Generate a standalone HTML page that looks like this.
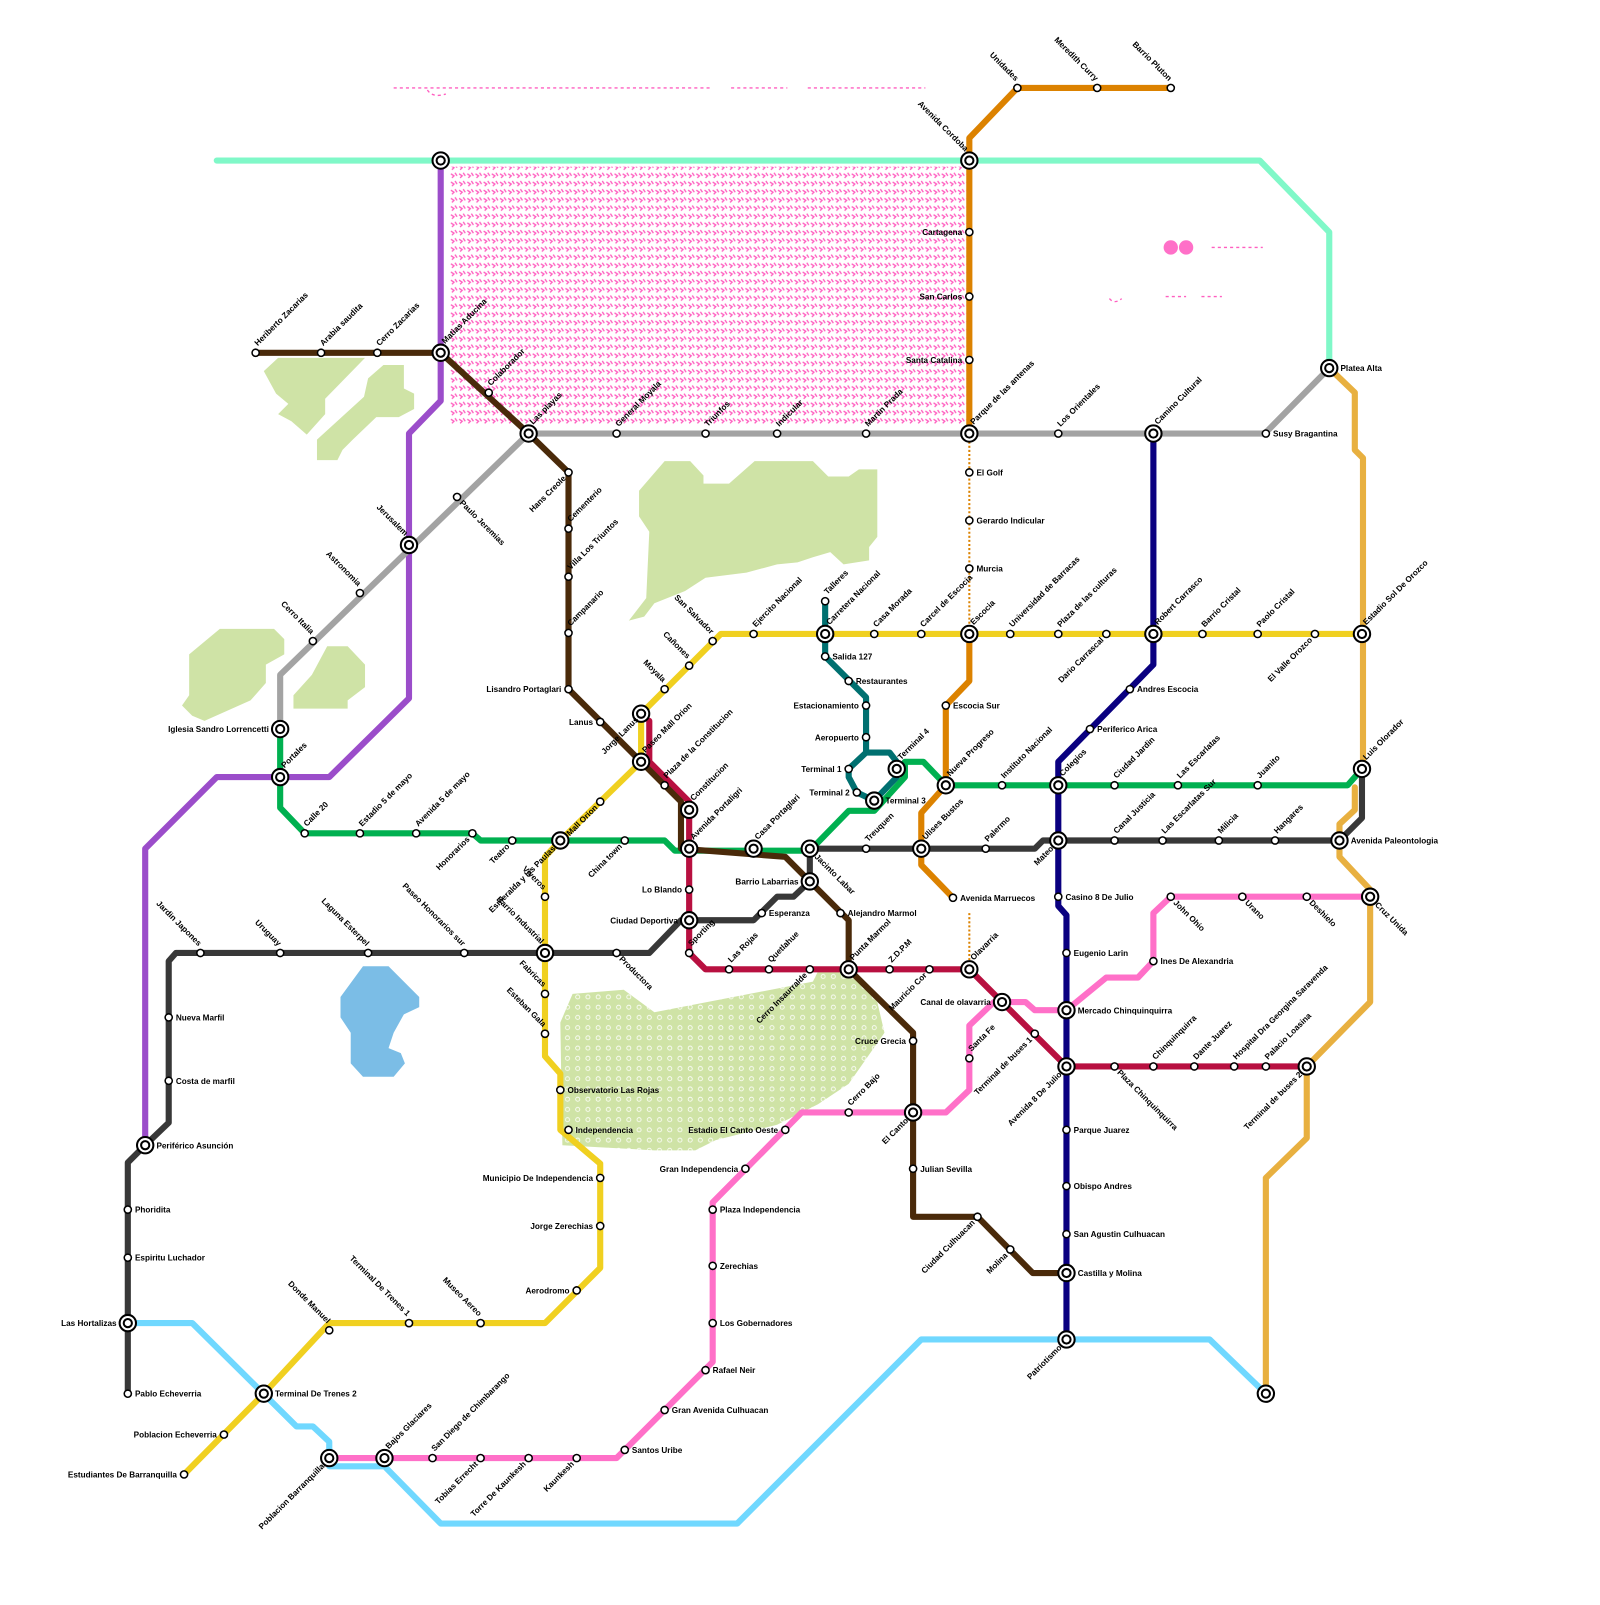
<!DOCTYPE html>
<html><head><meta charset="utf-8"><style>
html,body{margin:0;padding:0;background:#fff}
svg text{font-family:"Liberation Sans",sans-serif;font-size:8px;font-weight:bold;fill:#000}
.l{fill:none;stroke-width:6;stroke-linejoin:round;stroke-linecap:round}
</style></head><body>
<svg width="1600" height="1600" viewBox="0 0 1600 1600" xmlns="http://www.w3.org/2000/svg">
<defs>
<pattern id="pk" width="8" height="8" patternUnits="userSpaceOnUse">
<path d="M1 2 l3 2 l-2 2 M5 1 l2 3" stroke="#ff5fc0" stroke-width="1.3" fill="none"/>
</pattern>
<pattern id="gd" width="10" height="10" patternUnits="userSpaceOnUse">
<rect width="10" height="10" fill="#cfe3a6"/><circle cx="5" cy="5" r="2" fill="none" stroke="#fff" stroke-width="0.8"/>
</pattern>
</defs>
<g transform="scale(1.0225)">
<rect x="440" y="163" width="505" height="252" fill="url(#pk)"/>
<g fill="#cfe3a6">
<polygon points="258,363 272,350 357,350 318,390 318,405 300,425 285,412 272,405 282,395 270,385"/>
<polygon points="310,430 356,388 360,370 375,357 395,357 395,380 405,385 405,400 390,408 368,408 345,430 335,440 330,450 310,450"/>
<polygon points="185,640 215,615 268,615 278,625 278,640 260,650 260,668 245,685 200,705 188,700 178,690 185,680"/>
<polygon points="287,680 305,660 320,632 340,632 357,650 357,672 340,685 340,693 287,693"/>
<polygon points="625,480 650,451 675,451 688,465 688,473 713,473 738,451 795,451 810,466 830,466 840,459 858,459 858,525 850,535 850,548 825,552 812,540 795,545 780,550 760,552 730,560 690,565 670,578 640,590 630,603 615,607 632,585 635,520 625,505"/>
<polygon points="640,990 795,960 800,950 830,950 858,980 865,1010 830,1060 800,1080 760,1100 700,1115 680,1125 640,1125 550,1120 548,1000 560,972 610,968" fill="url(#gd)"/>
</g>
<polygon points="355,945 380,945 410,975 410,985 395,992 385,1010 380,1025 392,1030 396,1040 385,1053 355,1053 343,1040 343,1010 333,995 333,975" fill="#7bbde6"/>
<g stroke="#ff5fc0" stroke-width="1.3" stroke-dasharray="3,3" fill="none">
<line x1="385" y1="86" x2="695" y2="86"/><line x1="715" y1="86" x2="770" y2="86"/><line x1="790" y1="86" x2="905" y2="86"/>
<line x1="1185" y1="242" x2="1235" y2="242"/><line x1="1140" y1="290" x2="1160" y2="290"/><line x1="1175" y1="290" x2="1195" y2="290"/>
<path d="M418 88 q5 8 18 4 M1085 292 q5 6 12 0"/>
</g>
<circle cx="1145" cy="242" r="7" fill="#ff70c8"/><circle cx="1160" cy="242" r="7" fill="#ff70c8"/>
<polyline class="l" stroke="#80f8c8" points="212,157 1232,157 1300,227 1300,360"/>
<polyline class="l" stroke="#9b4dca" points="431,157 431,392 400,424 400,683 322,760 212,760 142,830 142,1120"/>
<polyline class="l" stroke="#a3a3a3" points="274,713 274,660 517,424 1237,424 1300,360"/>
<polyline class="l" stroke="#e8b040" points="1300,360 1325,384 1325,440 1333,448 1333,752"/>
<polyline class="l" stroke="#e8b040" points="1325,770 1325,792 1310,806 1310,838 1340,870 1340,980 1278,1043 1278,1113 1238,1152 1238,1363"/>
<polyline class="l" stroke="#dc8200" points="1145,86 995,86 948,135 948,424"/>
<line x1="948" y1="424" x2="948" y2="620" stroke="#dc8200" stroke-width="2" stroke-dasharray="2,2"/>
<line x1="948" y1="893" x2="948" y2="948" stroke="#dc8200" stroke-width="2" stroke-dasharray="2,2"/>
<polyline class="l" stroke="#dc8200" points="948,620 948,666 925,690 925,768 901,795 901,846 932,878"/>
<polyline class="l" stroke="#70d8ff" points="125,1294 188,1294 290,1395 306,1395 322,1410 322,1434 376,1434 431,1490 721,1490 901,1310 1183,1310 1238,1363"/>
<polyline class="l" stroke="#f0d020" points="1332,620 705,620 627,698 627,745 548,822 533,838 533,1033 548,1050 548,1105 587,1138 587,1240 533,1294 322,1294 258,1363 180,1442"/>
<polyline class="l" stroke="#00b050" points="274,713 274,790 298,815 462,815 470,822 650,822 660,832 792,832 830,793 855,793 885,760 885,745 903,745 925,768 1318,768 1332,752"/>
<polyline class="l" stroke="#383838" points="125,1363 125,1137 142,1120 165,1098 165,940 172,932 635,932 666,900 737,900 760,877 776,877 792,862 792,830 1012,830 1020,822 1310,822 1332,800 1332,752"/>
<polyline class="l" stroke="#b81040" points="635,705 635,745 674,784 674,932 690,948 948,948 1043,1043 1278,1043"/>
<polyline class="l" stroke="#ff70c8" points="322,1426 603,1426 697,1332 697,1176 784,1088 925,1088 948,1066 948,1003 972,980 1003,980 1012,988 1043,988 1082,956 1113,956 1128,940 1128,893 1145,877 1340,877"/>
<polyline class="l" stroke="#007070" points="807,588 807,642 847,682 847,736 870,736 877,745 877,760 855,783 838,775 830,760 830,752 847,736"/>
<polyline class="l" stroke="#0a0080" points="1128,424 1128,650 1035,745 1035,886 1043,895 1043,1310"/>
<polyline class="l" stroke="#4a2a0a" points="250,345 431,345 517,424 556,462 556,674 627,745 666,784 666,830 768,838 792,862 830,900 830,948 893,1010 893,1190 956,1190 1010,1245 1043,1245"/>
<g fill="#fff" stroke="#000" stroke-width="1.5">
<circle cx="250" cy="345" r="3.5"/><circle cx="314" cy="345" r="3.5"/><circle cx="369" cy="345" r="3.5"/><circle cx="478" cy="384" r="3.5"/><circle cx="556" cy="462" r="3.5"/><circle cx="556" cy="517" r="3.5"/><circle cx="556" cy="564" r="3.5"/><circle cx="556" cy="619" r="3.5"/><circle cx="556" cy="674" r="3.5"/><circle cx="587" cy="706" r="3.5"/><circle cx="587" cy="784" r="3.5"/><circle cx="822" cy="893" r="3.5"/><circle cx="893" cy="1018" r="3.5"/><circle cx="893" cy="1143" r="3.5"/><circle cx="956" cy="1190" r="3.5"/><circle cx="988" cy="1222" r="3.5"/>
<circle cx="447" cy="486" r="3.5"/><circle cx="352" cy="580" r="3.5"/><circle cx="306" cy="627" r="3.5"/><circle cx="603" cy="424" r="3.5"/><circle cx="690" cy="424" r="3.5"/><circle cx="760" cy="424" r="3.5"/><circle cx="847" cy="424" r="3.5"/><circle cx="1035" cy="424" r="3.5"/><circle cx="1238" cy="424" r="3.5"/>
<circle cx="995" cy="86" r="3.5"/><circle cx="1073" cy="86" r="3.5"/><circle cx="1145" cy="86" r="3.5"/><circle cx="948" cy="227" r="3.5"/><circle cx="948" cy="290" r="3.5"/><circle cx="948" cy="352" r="3.5"/><circle cx="948" cy="462" r="3.5"/><circle cx="948" cy="509" r="3.5"/><circle cx="948" cy="556" r="3.5"/><circle cx="925" cy="690" r="3.5"/><circle cx="932" cy="878" r="3.5"/>
<circle cx="697" cy="627" r="3.5"/><circle cx="674" cy="651" r="3.5"/><circle cx="650" cy="674" r="3.5"/><circle cx="737" cy="620" r="3.5"/><circle cx="855" cy="620" r="3.5"/><circle cx="901" cy="620" r="3.5"/><circle cx="988" cy="620" r="3.5"/><circle cx="1035" cy="620" r="3.5"/><circle cx="1082" cy="620" r="3.5"/><circle cx="1176" cy="620" r="3.5"/><circle cx="1230" cy="620" r="3.5"/><circle cx="1286" cy="620" r="3.5"/><circle cx="533" cy="877" r="3.5"/><circle cx="533" cy="972" r="3.5"/><circle cx="533" cy="1011" r="3.5"/><circle cx="548" cy="1066" r="3.5"/><circle cx="556" cy="1105" r="3.5"/><circle cx="587" cy="1152" r="3.5"/><circle cx="587" cy="1199" r="3.5"/><circle cx="564" cy="1262" r="3.5"/><circle cx="470" cy="1294" r="3.5"/><circle cx="400" cy="1294" r="3.5"/><circle cx="322" cy="1301" r="3.5"/><circle cx="219" cy="1403" r="3.5"/><circle cx="180" cy="1442" r="3.5"/>
<circle cx="298" cy="815" r="3.5"/><circle cx="352" cy="815" r="3.5"/><circle cx="407" cy="815" r="3.5"/><circle cx="462" cy="815" r="3.5"/><circle cx="501" cy="822" r="3.5"/><circle cx="611" cy="822" r="3.5"/><circle cx="980" cy="768" r="3.5"/><circle cx="1090" cy="768" r="3.5"/><circle cx="1152" cy="768" r="3.5"/><circle cx="1230" cy="768" r="3.5"/>
<circle cx="196" cy="932" r="3.5"/><circle cx="274" cy="932" r="3.5"/><circle cx="360" cy="932" r="3.5"/><circle cx="454" cy="932" r="3.5"/><circle cx="603" cy="932" r="3.5"/><circle cx="165" cy="995" r="3.5"/><circle cx="165" cy="1057" r="3.5"/><circle cx="125" cy="1183" r="3.5"/><circle cx="125" cy="1230" r="3.5"/><circle cx="125" cy="1363" r="3.5"/><circle cx="745" cy="893" r="3.5"/><circle cx="847" cy="830" r="3.5"/><circle cx="964" cy="830" r="3.5"/><circle cx="1090" cy="822" r="3.5"/><circle cx="1137" cy="822" r="3.5"/><circle cx="1192" cy="822" r="3.5"/><circle cx="1247" cy="822" r="3.5"/><circle cx="1035" cy="877" r="3.5"/>
<circle cx="674" cy="870" r="3.5"/><circle cx="650" cy="768" r="3.5"/><circle cx="674" cy="932" r="3.5"/><circle cx="713" cy="948" r="3.5"/><circle cx="752" cy="948" r="3.5"/><circle cx="792" cy="948" r="3.5"/><circle cx="870" cy="948" r="3.5"/><circle cx="909" cy="948" r="3.5"/><circle cx="1012" cy="1011" r="3.5"/><circle cx="1128" cy="1043" r="3.5"/><circle cx="1090" cy="1043" r="3.5"/><circle cx="1168" cy="1043" r="3.5"/><circle cx="1207" cy="1043" r="3.5"/><circle cx="1238" cy="1043" r="3.5"/>
<circle cx="807" cy="588" r="3.5"/><circle cx="807" cy="642" r="3.5"/><circle cx="830" cy="666" r="3.5"/><circle cx="847" cy="690" r="3.5"/><circle cx="847" cy="721" r="3.5"/><circle cx="830" cy="752" r="3.5"/><circle cx="838" cy="775" r="3.5"/>
<circle cx="1105" cy="674" r="3.5"/><circle cx="1066" cy="713" r="3.5"/><circle cx="1043" cy="932" r="3.5"/><circle cx="1043" cy="1105" r="3.5"/><circle cx="1043" cy="1160" r="3.5"/><circle cx="1043" cy="1207" r="3.5"/>
<circle cx="611" cy="1418" r="3.5"/><circle cx="650" cy="1379" r="3.5"/><circle cx="690" cy="1340" r="3.5"/><circle cx="697" cy="1294" r="3.5"/><circle cx="697" cy="1238" r="3.5"/><circle cx="697" cy="1183" r="3.5"/><circle cx="729" cy="1143" r="3.5"/><circle cx="768" cy="1105" r="3.5"/><circle cx="830" cy="1088" r="3.5"/><circle cx="948" cy="1035" r="3.5"/><circle cx="1128" cy="940" r="3.5"/><circle cx="1145" cy="877" r="3.5"/><circle cx="1215" cy="877" r="3.5"/><circle cx="1278" cy="877" r="3.5"/><circle cx="423" cy="1426" r="3.5"/><circle cx="470" cy="1426" r="3.5"/><circle cx="517" cy="1426" r="3.5"/><circle cx="564" cy="1426" r="3.5"/>
</g>
<g fill="#fff" stroke="#000" stroke-width="2">
<circle cx="431" cy="157" r="8"/><circle cx="431" cy="157" r="4"/>
<circle cx="948" cy="157" r="8"/><circle cx="948" cy="157" r="4"/>
<circle cx="431" cy="345" r="8"/><circle cx="431" cy="345" r="4"/>
<circle cx="517" cy="424" r="8"/><circle cx="517" cy="424" r="4"/>
<circle cx="948" cy="424" r="8"/><circle cx="948" cy="424" r="4"/>
<circle cx="1128" cy="424" r="8"/><circle cx="1128" cy="424" r="4"/>
<circle cx="1300" cy="360" r="8"/><circle cx="1300" cy="360" r="4"/>
<circle cx="400" cy="533" r="8"/><circle cx="400" cy="533" r="4"/>
<circle cx="274" cy="713" r="8"/><circle cx="274" cy="713" r="4"/>
<circle cx="274" cy="760" r="8"/><circle cx="274" cy="760" r="4"/>
<circle cx="627" cy="698" r="8"/><circle cx="627" cy="698" r="4"/>
<circle cx="627" cy="745" r="8"/><circle cx="627" cy="745" r="4"/>
<circle cx="674" cy="792" r="8"/><circle cx="674" cy="792" r="4"/>
<circle cx="674" cy="830" r="8"/><circle cx="674" cy="830" r="4"/>
<circle cx="548" cy="822" r="8"/><circle cx="548" cy="822" r="4"/>
<circle cx="737" cy="830" r="8"/><circle cx="737" cy="830" r="4"/>
<circle cx="792" cy="830" r="8"/><circle cx="792" cy="830" r="4"/>
<circle cx="792" cy="862" r="8"/><circle cx="792" cy="862" r="4"/>
<circle cx="674" cy="900" r="8"/><circle cx="674" cy="900" r="4"/>
<circle cx="533" cy="932" r="8"/><circle cx="533" cy="932" r="4"/>
<circle cx="807" cy="620" r="8"/><circle cx="807" cy="620" r="4"/>
<circle cx="877" cy="752" r="8"/><circle cx="877" cy="752" r="4"/>
<circle cx="855" cy="783" r="8"/><circle cx="855" cy="783" r="4"/>
<circle cx="948" cy="620" r="8"/><circle cx="948" cy="620" r="4"/>
<circle cx="925" cy="768" r="8"/><circle cx="925" cy="768" r="4"/>
<circle cx="901" cy="830" r="8"/><circle cx="901" cy="830" r="4"/>
<circle cx="830" cy="948" r="8"/><circle cx="830" cy="948" r="4"/>
<circle cx="948" cy="948" r="8"/><circle cx="948" cy="948" r="4"/>
<circle cx="980" cy="980" r="8"/><circle cx="980" cy="980" r="4"/>
<circle cx="1043" cy="988" r="8"/><circle cx="1043" cy="988" r="4"/>
<circle cx="1043" cy="1043" r="8"/><circle cx="1043" cy="1043" r="4"/>
<circle cx="1035" cy="768" r="8"/><circle cx="1035" cy="768" r="4"/>
<circle cx="1035" cy="822" r="8"/><circle cx="1035" cy="822" r="4"/>
<circle cx="1128" cy="620" r="8"/><circle cx="1128" cy="620" r="4"/>
<circle cx="1332" cy="620" r="8"/><circle cx="1332" cy="620" r="4"/>
<circle cx="1332" cy="752" r="8"/><circle cx="1332" cy="752" r="4"/>
<circle cx="1310" cy="822" r="8"/><circle cx="1310" cy="822" r="4"/>
<circle cx="1340" cy="877" r="8"/><circle cx="1340" cy="877" r="4"/>
<circle cx="1278" cy="1043" r="8"/><circle cx="1278" cy="1043" r="4"/>
<circle cx="893" cy="1088" r="8"/><circle cx="893" cy="1088" r="4"/>
<circle cx="1043" cy="1245" r="8"/><circle cx="1043" cy="1245" r="4"/>
<circle cx="1043" cy="1310" r="8"/><circle cx="1043" cy="1310" r="4"/>
<circle cx="1238" cy="1363" r="8"/><circle cx="1238" cy="1363" r="4"/>
<circle cx="142" cy="1120" r="8"/><circle cx="142" cy="1120" r="4"/>
<circle cx="125" cy="1294" r="8"/><circle cx="125" cy="1294" r="4"/>
<circle cx="258" cy="1363" r="8"/><circle cx="258" cy="1363" r="4"/>
<circle cx="322" cy="1426" r="8"/><circle cx="322" cy="1426" r="4"/>
<circle cx="376" cy="1426" r="8"/><circle cx="376" cy="1426" r="4"/>
</g>
<g>
<text x="256" y="342" transform="rotate(-45 250 345)">Heriberto Zacarias</text>
<text x="320" y="342" transform="rotate(-45 314 345)">Arabia saudita</text>
<text x="375" y="342" transform="rotate(-45 369 345)">Cerro Zacarias</text>
<text x="440" y="342" transform="rotate(-45 431 345)">Matias Aducina</text>
<text x="484" y="381" transform="rotate(-45 478 384)">Colaborador</text>
<text x="526" y="421" transform="rotate(-45 517 424)">Las playas</text>
<text x="562" y="514" transform="rotate(-45 556 517)">Cementerio</text>
<text x="562" y="561" transform="rotate(-45 556 564)">Villa Los Triuntos</text>
<text x="562" y="616" transform="rotate(-45 556 619)">Campanario</text>
<text x="839" y="945" transform="rotate(-45 830 948)">Punta Marmol</text>
<text x="609" y="421" transform="rotate(-45 603 424)">General Moyala</text>
<text x="696" y="421" transform="rotate(-45 690 424)">Triunfos</text>
<text x="766" y="421" transform="rotate(-45 760 424)">Indicular</text>
<text x="853" y="421" transform="rotate(-45 847 424)">Martin Prada</text>
<text x="957" y="421" transform="rotate(-45 948 424)">Parque de las antenas</text>
<text x="1041" y="421" transform="rotate(-45 1035 424)">Los Orientales</text>
<text x="1137" y="421" transform="rotate(-45 1128 424)">Camino Cultural</text>
<text x="743" y="617" transform="rotate(-45 737 620)">Ejercito Nacional</text>
<text x="816" y="617" transform="rotate(-45 807 620)">Carretera Nacional</text>
<text x="861" y="617" transform="rotate(-45 855 620)">Casa Morada</text>
<text x="907" y="617" transform="rotate(-45 901 620)">Carcel de Escocia</text>
<text x="957" y="617" transform="rotate(-45 948 620)">Escocia</text>
<text x="994" y="617" transform="rotate(-45 988 620)">Universidad de Barracas</text>
<text x="1041" y="617" transform="rotate(-45 1035 620)">Plaza de las culturas</text>
<text x="1137" y="617" transform="rotate(-45 1128 620)">Robert Carrasco</text>
<text x="1182" y="617" transform="rotate(-45 1176 620)">Barrio Cristal</text>
<text x="1236" y="617" transform="rotate(-45 1230 620)">Paolo Cristal</text>
<text x="1341" y="617" transform="rotate(-45 1332 620)">Estadio Sol De Orozco</text>
<text x="813" y="585" transform="rotate(-45 807 588)">Talleres</text>
<text x="283" y="757" transform="rotate(-45 274 760)">Portales</text>
<text x="304" y="812" transform="rotate(-45 298 815)">Calle 20</text>
<text x="358" y="812" transform="rotate(-45 352 815)">Estadio 5 de mayo</text>
<text x="413" y="812" transform="rotate(-45 407 815)">Avenida 5 de mayo</text>
<text x="636" y="742" transform="rotate(-45 627 745)">Paseo Mall Orion</text>
<text x="656" y="765" transform="rotate(-45 650 768)">Plaza de la Constitucion</text>
<text x="683" y="789" transform="rotate(-45 674 792)">Constitucion</text>
<text x="683" y="827" transform="rotate(-45 674 830)">Avenida Portaligri</text>
<text x="746" y="827" transform="rotate(-45 737 830)">Casa Portaglari</text>
<text x="853" y="827" transform="rotate(-45 847 830)">Treuquen</text>
<text x="910" y="827" transform="rotate(-45 901 830)">Ulises Bustos</text>
<text x="970" y="827" transform="rotate(-45 964 830)">Palermo</text>
<text x="934" y="765" transform="rotate(-45 925 768)">Nueva Progreso</text>
<text x="886" y="749" transform="rotate(-45 877 752)">Terminal 4</text>
<text x="986" y="765" transform="rotate(-45 980 768)">Instituto Nacional</text>
<text x="1044" y="765" transform="rotate(-45 1035 768)">Colegios</text>
<text x="1096" y="765" transform="rotate(-45 1090 768)">Ciudad Jardin</text>
<text x="1158" y="765" transform="rotate(-45 1152 768)">Las Escarlatas</text>
<text x="1236" y="765" transform="rotate(-45 1230 768)">Juanito</text>
<text x="1341" y="749" transform="rotate(-45 1332 752)">Luis Olorador</text>
<text x="1096" y="819" transform="rotate(-45 1090 822)">Canal Justicia</text>
<text x="1143" y="819" transform="rotate(-45 1137 822)">Las Escarlatas Sur</text>
<text x="1198" y="819" transform="rotate(-45 1192 822)">Milicia</text>
<text x="1253" y="819" transform="rotate(-45 1247 822)">Hangares</text>
<text x="680" y="929" transform="rotate(-45 674 932)">Sporting</text>
<text x="719" y="945" transform="rotate(-45 713 948)">Las Rojas</text>
<text x="758" y="945" transform="rotate(-45 752 948)">Quetlahue</text>
<text x="876" y="945" transform="rotate(-45 870 948)">Z.D.P.M</text>
<text x="957" y="945" transform="rotate(-45 948 948)">Olavarria</text>
<text x="1134" y="1040" transform="rotate(-45 1128 1043)">Chinquinquirra</text>
<text x="1174" y="1040" transform="rotate(-45 1168 1043)">Dante Juarez</text>
<text x="1213" y="1040" transform="rotate(-45 1207 1043)">Hospital Dra Georgina Saravenda</text>
<text x="1244" y="1040" transform="rotate(-45 1238 1043)">Palacio Loasina</text>
<text x="836" y="1085" transform="rotate(-45 830 1088)">Cerro Bajo</text>
<text x="954" y="1032" transform="rotate(-45 948 1035)">Santa Fe</text>
<text x="385" y="1423" transform="rotate(-45 376 1426)">Bajos Glaciares</text>
<text x="429" y="1423" transform="rotate(-45 423 1426)">San Diego de Chimbarango</text>
</g>
<g text-anchor="end">
<text x="550" y="465" transform="rotate(-45 556 462)">Hans Creole</text>
<text x="581" y="787" transform="rotate(-45 587 784)">Mall Orion</text>
<text x="621" y="701" transform="rotate(-45 627 698)">Jorge Lanus</text>
<text x="539" y="825" transform="rotate(-45 548 822)">Esmeralda y las Paulas</text>
<text x="456" y="818" transform="rotate(-45 462 815)">Honorarios</text>
<text x="495" y="825" transform="rotate(-45 501 822)">Teatro</text>
<text x="605" y="825" transform="rotate(-45 611 822)">China town</text>
<text x="1076" y="623" transform="rotate(-45 1082 620)">Dario Carrascal</text>
<text x="1280" y="623" transform="rotate(-45 1286 620)">El Valle Orozco</text>
<text x="786" y="951" transform="rotate(-45 792 948)">Cerro Insaurralde</text>
<text x="903" y="951" transform="rotate(-45 909 948)">Mauricio Cor</text>
<text x="1006" y="1014" transform="rotate(-45 1012 1011)">Terminal de buses 1</text>
<text x="1034" y="1046" transform="rotate(-45 1043 1043)">Avenida 8 De Julio</text>
<text x="1026" y="825" transform="rotate(-45 1035 822)">Mateo</text>
<text x="1269" y="1046" transform="rotate(-45 1278 1043)">Terminal de buses 2</text>
<text x="884" y="1091" transform="rotate(-45 893 1088)">El Canto</text>
<text x="950" y="1193" transform="rotate(-45 956 1190)">Ciudad Culhuacan</text>
<text x="982" y="1225" transform="rotate(-45 988 1222)">Molina</text>
<text x="1034" y="1313" transform="rotate(-45 1043 1310)">Patriotismo</text>
<text x="313" y="1429" transform="rotate(-45 322 1426)">Poblacion Barranquilla</text>
<text x="464" y="1429" transform="rotate(-45 470 1426)">Tobias Errecht</text>
<text x="511" y="1429" transform="rotate(-45 517 1426)">Torre De Kaunkesh</text>
<text x="558" y="1429" transform="rotate(-45 564 1426)">Kaunkesh</text>
</g>
<g text-anchor="end">
<text x="391" y="530" transform="rotate(45 400 533)">Jerusalem</text>
<text x="346" y="577" transform="rotate(45 352 580)">Astronomia</text>
<text x="300" y="624" transform="rotate(45 306 627)">Cerro Italia</text>
<text x="989" y="83" transform="rotate(45 995 86)">Unidades</text>
<text x="1067" y="83" transform="rotate(45 1073 86)">Meredith Curry</text>
<text x="1139" y="83" transform="rotate(45 1145 86)">Barrio Pluton</text>
<text x="939" y="154" transform="rotate(45 948 157)">Avenida Cordoba</text>
<text x="691" y="624" transform="rotate(45 697 627)">San Salvador</text>
<text x="668" y="648" transform="rotate(45 674 651)">Cañones</text>
<text x="644" y="671" transform="rotate(45 650 674)">Moyala</text>
<text x="527" y="874" transform="rotate(45 533 877)">Viveros</text>
<text x="524" y="929" transform="rotate(45 533 932)">Barrio Industrial</text>
<text x="527" y="969" transform="rotate(45 533 972)">Fabricas</text>
<text x="527" y="1008" transform="rotate(45 533 1011)">Esteban Gala</text>
<text x="464" y="1291" transform="rotate(45 470 1294)">Museo Aereo</text>
<text x="394" y="1291" transform="rotate(45 400 1294)">Terminal De Trenes 1</text>
<text x="316" y="1298" transform="rotate(45 322 1301)">Donde Manuel</text>
<text x="190" y="929" transform="rotate(45 196 932)">Jardin Japones</text>
<text x="268" y="929" transform="rotate(45 274 932)">Uruguay</text>
<text x="354" y="929" transform="rotate(45 360 932)">Laguna Esterpel</text>
<text x="448" y="929" transform="rotate(45 454 932)">Paseo Honorarios sur</text>
</g>
<g>
<text x="453" y="489" transform="rotate(45 447 486)">Paulo Jeremias</text>
<text x="609" y="935" transform="rotate(45 603 932)">Productora</text>
<text x="801" y="833" transform="rotate(45 792 830)">Jacinto Labar</text>
<text x="1096" y="1046" transform="rotate(45 1090 1043)">Plaza Chinquinquirra</text>
<text x="1151" y="880" transform="rotate(45 1145 877)">John Ohio</text>
<text x="1221" y="880" transform="rotate(45 1215 877)">Urano</text>
<text x="1284" y="880" transform="rotate(45 1278 877)">Deshielo</text>
<text x="1349" y="880" transform="rotate(45 1340 877)">Cruz Unida</text>
</g>
<g>
<text x="1311" y="363">Platea Alta</text>
<text x="1245" y="427">Susy Bragantina</text>
<text x="955" y="465">El Golf</text>
<text x="955" y="512">Gerardo Indicular</text>
<text x="955" y="559">Murcia</text>
<text x="932" y="693">Escocia Sur</text>
<text x="939" y="881">Avenida Marruecos</text>
<text x="829" y="896">Alejandro Marmol</text>
<text x="900" y="1146">Julian Sevilla</text>
<text x="1054" y="1248">Castilla y Molina</text>
<text x="555" y="1069">Observatorio Las Rojas</text>
<text x="563" y="1108">Independencia</text>
<text x="172" y="998">Nueva Marfil</text>
<text x="172" y="1060">Costa de marfil</text>
<text x="153" y="1123">Periférico Asunción</text>
<text x="132" y="1186">Phoridita</text>
<text x="132" y="1233">Espiritu Luchador</text>
<text x="132" y="1366">Pablo Echeverria</text>
<text x="269" y="1366">Terminal De Trenes 2</text>
<text x="752" y="896">Esperanza</text>
<text x="1042" y="880">Casino 8 De Julio</text>
<text x="814" y="645">Salida 127</text>
<text x="837" y="669">Restaurantes</text>
<text x="866" y="786">Terminal 3</text>
<text x="1112" y="677">Andres Escocia</text>
<text x="1073" y="716">Periferico Arica</text>
<text x="1050" y="935">Eugenio Larin</text>
<text x="1054" y="991">Mercado Chinquinquirra</text>
<text x="1050" y="1108">Parque Juarez</text>
<text x="1050" y="1163">Obispo Andres</text>
<text x="1050" y="1210">San Agustin Culhuacan</text>
<text x="1321" y="825">Avenida Paleontologia</text>
<text x="1135" y="943">Ines De Alexandria</text>
<text x="618" y="1421">Santos Uribe</text>
<text x="657" y="1382">Gran Avenida Culhuacan</text>
<text x="697" y="1343">Rafael Neir</text>
<text x="704" y="1297">Los Gobernadores</text>
<text x="704" y="1241">Zerechias</text>
<text x="704" y="1186">Plaza Independencia</text>
</g>
<g text-anchor="end">
<text x="941" y="230">Cartagena</text>
<text x="941" y="293">San Carlos</text>
<text x="941" y="355">Santa Catalina</text>
<text x="549" y="677">Lisandro Portaglari</text>
<text x="580" y="709">Lanus</text>
<text x="886" y="1021">Cruce Grecia</text>
<text x="263" y="716">Iglesia Sandro Lorrencetti</text>
<text x="667" y="873">Lo Blando</text>
<text x="663" y="903">Ciudad Deportiva</text>
<text x="781" y="865">Barrio Labarrias</text>
<text x="840" y="693">Estacionamiento</text>
<text x="840" y="724">Aeropuerto</text>
<text x="823" y="755">Terminal 1</text>
<text x="831" y="778">Terminal 2</text>
<text x="969" y="983">Canal de olavarria</text>
<text x="580" y="1155">Municipio De Independencia</text>
<text x="580" y="1202">Jorge Zerechias</text>
<text x="557" y="1265">Aerodromo</text>
<text x="114" y="1297">Las Hortalizas</text>
<text x="212" y="1406">Poblacion Echeverria</text>
<text x="173" y="1445">Estudiantes De Barranquilla</text>
<text x="722" y="1146">Gran Independencia</text>
<text x="761" y="1108">Estadio El Canto Oeste</text>
</g>
</g>
</svg>
</body></html>
